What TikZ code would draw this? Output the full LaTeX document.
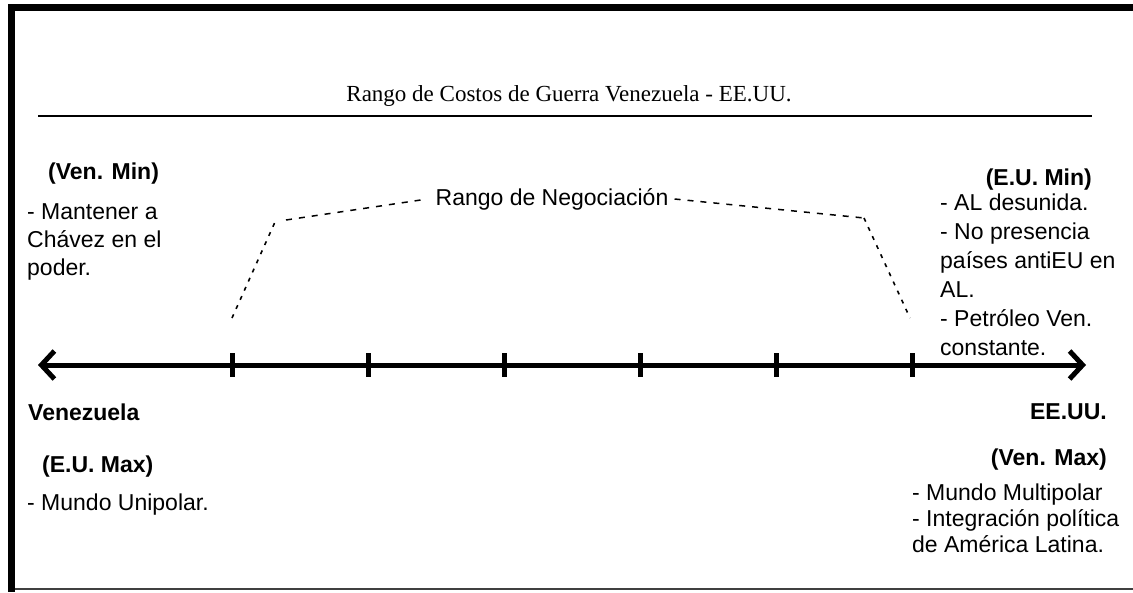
\documentclass[tikz,border=0pt]{standalone}
\usepackage{fontspec}
\setmainfont{Liberation Sans}
\newfontfamily\titlefont{Liberation Serif}
\usetikzlibrary{positioning,arrows.meta}

\begin{document}
\begin{tikzpicture}[x=1pt,y=-1pt,
  every node/.style={font=\fontsize{23}{28}\selectfont,inner sep=0pt},
  head/.style={font=\fontsize{23}{28}\selectfont\bfseries},
  lst/.style={align=left,anchor=north west},
  axis/.style={line width=5pt,{Straight Barb[length=13pt,width=28pt]}-{Straight Barb[length=13pt,width=28pt]}},
  tick/.style={line width=5pt},
  negd/.style={line width=1.5pt,dash pattern=on 6pt off 7pt},
  negs/.style={line width=1.6pt,dash pattern=on 4pt off 6pt},
  frame/.style={fill=black}
]
\useasboundingbox (0,0) rectangle (1133,592);
% marco
\fill[frame] (8,4) rectangle (15,592);
\fill[frame] (8,4) rectangle (1133,11);
\draw[line width=2pt,black!75] (15,589) -- (1133,589);

% titulo
\node[font=\fontsize{23}{28}\selectfont\titlefont] (title) at (569,96) {Rango de Costos de Guerra Venezuela - EE.UU.};
\coordinate (rl) at (38,116);
\coordinate (rr) at (1092,116);
\draw[line width=1.5pt] (rl) -- (rr);

% eje
\coordinate (axl) at (38,365);
\coordinate (axr) at (1086,365);
\draw[axis] (axl) -- (axr);
\foreach \x in {232,368,504,640,776,912}
  \draw[tick] (\x,353) -- (\x,377);

% rango de negociacion
\node (neg) at (552,199) {Rango de Negociaci\'on};
\coordinate (nl0) at (232,318);
\coordinate (nl1) at (275,222);
\coordinate (nl2) at (286,220);
\coordinate (nr1) at (864,218);
\coordinate (nr0) at (910,318);
\draw[negs] (nl0) -- (nl1);
\draw[negd] (nl2) -- ([xshift=-8pt]neg.west);
\draw[negd] ([xshift=6pt]neg.east) -- (nr1);
\draw[negs] (nr1) -- (nr0);

% lado izquierdo
\node[head,anchor=west] (venmin) at (48,174) {(Ven. Min)};
\node[lst] (venminl) at (27,203) {- Mantener a\\Ch\'avez en el\\poder.};
\node[head,anchor=west] (ven) at (28,412) {Venezuela};
\node[head,anchor=west] (eumax) at (42,467) {(E.U. Max)};
\node[anchor=west] (eumaxl) at (27,505) {- Mundo Unipolar.};

% lado derecho
\node[head,anchor=east] (eumin) at (1092,180) {(E.U. Min)};
\node[lst,font=\fontsize{23}{29}\selectfont] (euminl) at (940,194) {- AL desunida.\\- No presencia\\pa\'ises antiEU en\\AL.\\- Petr\'oleo Ven.\\constante.};
\node[head,anchor=east] (eu) at (1107,412) {EE.UU.};
\node[head,anchor=east] (venmax) at (1107,460) {(Ven. Max)};
\node[lst,font=\fontsize{23}{26}\selectfont] (venmaxl) at (912,484) {- Mundo Multipolar\\- Integraci\'on pol\'itica\\de Am\'erica Latina.};
\end{tikzpicture}
\end{document}
